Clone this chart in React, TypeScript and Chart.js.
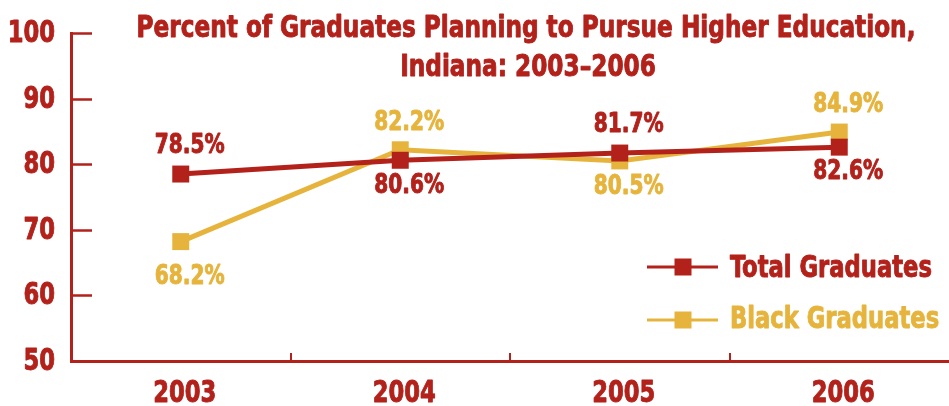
import React, { useEffect, useRef } from "react";
import { Chart, registerables } from "chart.js";

Chart.register(...registerables);

const years = ["2003", "2004", "2005", "2006"];
const totalGraduates = [78.5, 80.6, 81.7, 82.6];
const blackGraduates = [68.2, 82.2, 80.5, 84.9];
const seriesNames = ["Total Graduates", "Black Graduates"];
const titleLines = ["Percent of Graduates Planning to Pursue Higher Education,", "Indiana: 2003\u20132006"];
const yTicks = [50, 60, 70, 80, 90, 100];

// label placement relative to each point (styling, not data)
const totalLabelDy = [-28, 26, -28, 25];
const blackLabelDy = [36, -27, 26, -27];

const RED = "#B3211B";
const GOLD = "#E6B43C";
const FONT = "'DejaVu Sans Condensed', 'Liberation Sans Narrow', sans-serif";
const SX = 0.84;

function drawText(ctx: any, text: string, x: number, y: number, align: string, baseline: string, font: string, color: string, sx = SX) {
  ctx.save();
  ctx.font = font;
  ctx.fillStyle = color;
  ctx.strokeStyle = color;
  ctx.lineWidth = 0.9;
  ctx.lineJoin = "round";
  ctx.textAlign = align;
  ctx.textBaseline = baseline;
  ctx.translate(x, y);
  ctx.scale(sx, 1);
  ctx.fillText(text, 0, 0);
  ctx.strokeText(text, 0, 0);
  ctx.restore();
}

const decorPlugin = {
  id: "decor",
  afterDraw(chart: any) {
    const ctx = chart.ctx;
    const x = chart.scales.x;
    const y = chart.scales.y;
    const area = chart.chartArea;
    ctx.save();
    // y ticks pointing inward + labels
    ctx.strokeStyle = RED;
    ctx.lineWidth = 2.5;
    yTicks.forEach((v) => {
      const py = Math.round(y.getPixelForValue(v)) + 0.5;
      if (v !== yTicks[0]) {
        ctx.beginPath();
        ctx.moveTo(area.left, py);
        ctx.lineTo(area.left + 21, py);
        ctx.stroke();
      }
      drawText(ctx, String(v), 55, py + 1, "right", "middle", `bold 30px ${FONT}`, RED);
    });
    // x boundary ticks pointing up + labels
    ctx.strokeStyle = RED;
    ctx.lineWidth = 2;
    for (let i = 1; i < years.length; i++) {
      const px = Math.round((x.getPixelForTick(i - 1) + x.getPixelForTick(i)) / 2);
      ctx.beginPath();
      ctx.moveTo(px, area.bottom);
      ctx.lineTo(px, area.bottom - 8);
      ctx.stroke();
    }
    years.forEach((lab, i) => {
      drawText(ctx, lab, x.getPixelForTick(i) + 4, 402, "center", "alphabetic", `bold 30px ${FONT}`, RED);
    });
    // data labels
    const drawLabels = (vals: number[], dys: number[], color: string) => {
      vals.forEach((v, i) => {
        const px = x.getPixelForValue(i);
        const py = y.getPixelForValue(v);
        drawText(ctx, v.toFixed(1) + "%", px + 9, py + dys[i], "center", "middle", `bold 26px ${FONT}`, color, 0.86);
      });
    };
    drawLabels(totalGraduates, totalLabelDy, RED);
    drawLabels(blackGraduates, blackLabelDy, GOLD);

    // title
    drawText(ctx, titleLines[0], 526, 37, "center", "alphabetic", `bold 30px ${FONT}`, RED, 0.86);
    drawText(ctx, titleLines[1], 528, 76, "center", "alphabetic", `bold 30px ${FONT}`, RED, 0.86);

    // legend
    const legendY = [267, 320];
    const legendBase = [277, 328];
    chart.data.datasets.forEach((ds: any, i: number) => {
      const ly = legendY[i];
      ctx.strokeStyle = ds.borderColor;
      ctx.lineWidth = 3;
      ctx.beginPath();
      ctx.moveTo(647, ly);
      ctx.lineTo(718, ly);
      ctx.stroke();
      ctx.fillStyle = ds.borderColor;
      ctx.fillRect(683 - 8.5, ly - 8.5, 17, 17);
      drawText(ctx, ds.label, 730, legendBase[i], "left", "alphabetic", `bold 30px ${FONT}`, ds.borderColor);
    });
    ctx.restore();
  },
};

export default function App() {
  const ref = useRef<HTMLCanvasElement>(null);
  useEffect(() => {
    document.body.style.margin = "0";
    const chart = new Chart(ref.current as HTMLCanvasElement, {
      type: "line",
      data: {
        labels: years,
        datasets: [
          {
            label: seriesNames[0],
            data: totalGraduates,
            borderColor: RED,
            backgroundColor: RED,
            borderWidth: 5,
            pointStyle: "rect",
            pointRadius: 12,
            pointBorderWidth: 0,
            tension: 0,
            clip: false,
          },
          {
            label: seriesNames[1],
            data: blackGraduates,
            borderColor: GOLD,
            backgroundColor: GOLD,
            borderWidth: 5,
            pointStyle: "rect",
            pointRadius: 12,
            pointBorderWidth: 0,
            tension: 0,
            clip: false,
          },
        ],
      },
      options: {
        animation: false,
        responsive: false,
        layout: { autoPadding: false, padding: { top: 33, left: 0, right: -2, bottom: 0 } },
        plugins: { legend: { display: false }, title: { display: false }, tooltip: { enabled: false } },
        scales: {
          x: {
            offset: true,
            grid: { display: false, drawTicks: false },
            border: { display: true, color: RED, width: 3 },
            ticks: { display: false },
            afterFit: (s: any) => {
              s.height = 45;
              s.paddingLeft = 0;
              s.paddingRight = 0;
            },
          },
          y: {
            min: 50,
            max: 100,
            grid: { display: false, drawTicks: false },
            border: { display: true, color: RED, width: 3 },
            ticks: { display: false, stepSize: 10 },
            afterFit: (s: any) => {
              s.width = 71;
              s.paddingTop = 0;
              s.paddingBottom = 0;
            },
          },
        },
      },
      plugins: [decorPlugin],
    } as any);
    return () => chart.destroy();
  }, []);
  return (
    <div style={{ width: 949, height: 406 }}>
      <canvas ref={ref} width={949} height={406} style={{ display: "block" }} />
    </div>
  );
}
